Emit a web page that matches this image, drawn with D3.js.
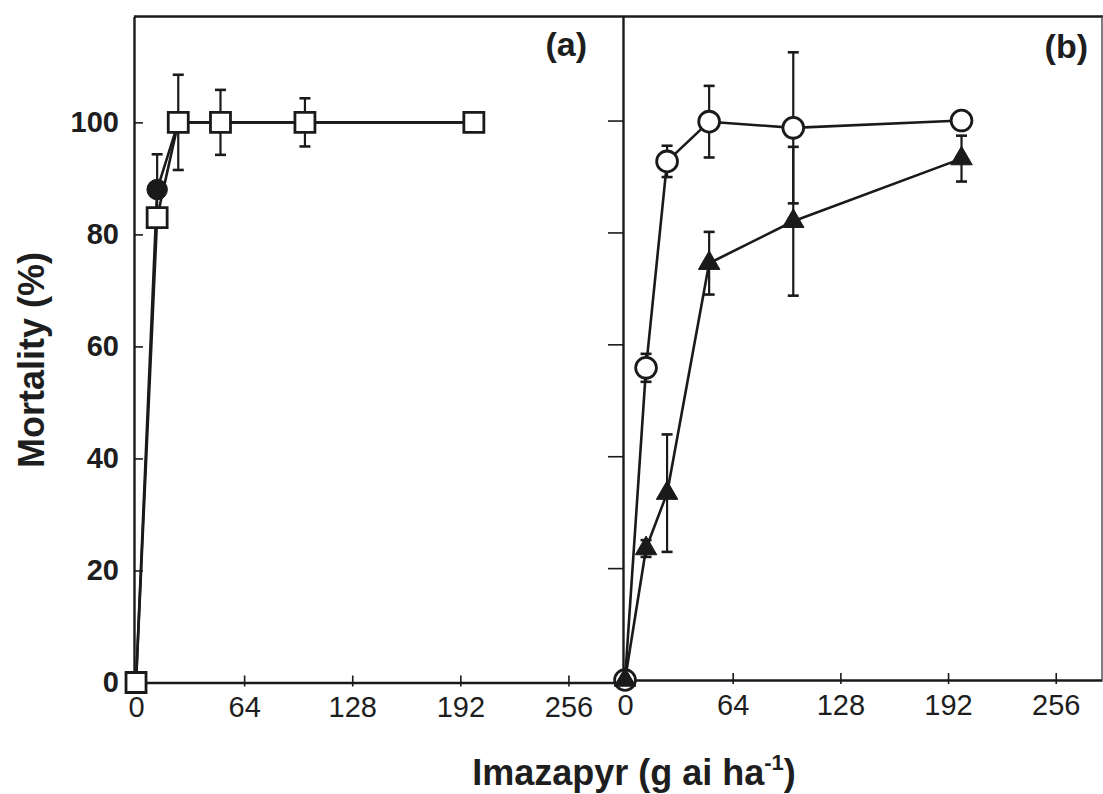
<!DOCTYPE html>
<html>
<head>
<meta charset="utf-8">
<script src="https://cdn.jsdelivr.net/npm/d3@7"></script>
<style>
  html, body { margin: 0; padding: 0; background: #ffffff; }
  svg { display: block; }
  text { font-family: "Liberation Sans", Arial, Helvetica, sans-serif; fill: #1e1e1e; }
</style>
</head>
<body>
<svg id="chart" width="1103" height="794"></svg>
<script>
// ---- data ----
const doses = [0, 12.5, 25, 50, 100, 200];

// panel (a)
const aSquareMort = [0, 83, 100, 100, 100, 100];
const aSquareErr  = [0, 0, 8.5, 5.8, 4.3, 0];
const aCircleMort = [0, 88, 100, 100, 100, 100];
const aCircleErr  = [0, 6.3, 0, 0, 0, 0];

// panel (b)
const bCircleMort = [0, 55.8, 92.7, 99.8, 98.7, 100];
const bCircleErr  = [0, 2.5, 2.8, 6.4, 13.5, 0];
const bTriMort    = [0, 23.5, 33.4, 74.5, 82, 93.2];
const bTriErr     = [0, 1.5, 10.5, 5.6, 13.3, 4.1];

const xTicks = [0, 64, 128, 192, 256];
const yTicks = [0, 20, 40, 60, 80, 100];
const panelLabels = ["(a)", "(b)"];
const xTitle = "Imazapyr (g ai ha";
const xTitleSup = "-1";
const yTitle = "Mortality (%)";

// ---- layout ----
const ink = "#1a1a1a";
const svg = d3.select("#chart");

const xA = d3.scaleLinear([-1.2, 288.3], [134, 623]);
const yA = d3.scaleLinear([0, 118.9], [682.5, 16.5]);
const xB = d3.scaleLinear([-1.2, 283.5], [623, 1102]);
const yB = d3.scaleLinear([0, 118.6], [680, 16.5]);

const rows = (ys, es) => doses.map((d, i) => ({dose: d, m: ys[i], e: es[i]}));

// ---- frames / axes ----
function xAxis(x, y0) {
  const g = svg.append("g").attr("transform", `translate(0,${y0})`)
    .call(d3.axisBottom(x).tickValues(xTicks).tickSizeOuter(0).tickSize(0).tickPadding(14).tickFormat(d3.format("d")));
  g.select(".domain").attr("stroke", ink).attr("stroke-width", 2.4);
  g.selectAll(".tick line").attr("y1", -7).attr("y2", 4).attr("stroke", ink).attr("stroke-width", 1.6);
  g.selectAll(".tick text").attr("font-size", 29).attr("fill", "#1e1e1e").attr("dy", "0.71em");
  return g;
}
xAxis(xA, 682.5);
xAxis(xB, 680);

// panel (a) left axis: inward ticks, bold labels
const gyA = svg.append("g").attr("transform", `translate(${xA.range()[0]},0)`)
  .call(d3.axisLeft(yA).tickValues(yTicks).tickSize(-9).tickSizeOuter(0).tickPadding(15));
gyA.select(".domain").attr("stroke", ink).attr("stroke-width", 2.4);
gyA.selectAll(".tick line").attr("stroke", ink).attr("stroke-width", 1.6);
gyA.selectAll(".tick text").attr("font-size", 29).attr("font-weight", "bold").attr("fill", "#1e1e1e");

// panel (b) left axis: divider line with outward ticks, no labels
const gyB = svg.append("g").attr("transform", `translate(${xB.range()[0]},0)`)
  .call(d3.axisLeft(yB).tickValues(yTicks.filter(v => v > 0)).tickSize(15).tickSizeOuter(0).tickFormat(""));
gyB.select(".domain").attr("stroke", ink).attr("stroke-width", 2.4);
gyB.selectAll(".tick line").attr("stroke", ink).attr("stroke-width", 1.6);

// top border across both panels, right border of panel (b)
svg.append("line").attr("x1", xA.range()[0]).attr("x2", 1103)
  .attr("y1", yA.range()[1]).attr("y2", yA.range()[1]).attr("stroke", ink).attr("stroke-width", 2.4);
svg.append("line").attr("x1", xB.range()[1]).attr("x2", xB.range()[1])
  .attr("y1", yB.range()[1]).attr("y2", yB.range()[0]).attr("stroke", "#555").attr("stroke-width", 1.5);

// ---- series drawing ----
function drawLine(x, y, data) {
  svg.append("path").datum(data)
    .attr("d", d3.line().x(d => x(d.dose)).y(d => y(d.m)))
    .attr("fill", "none").attr("stroke", ink).attr("stroke-width", 2.6).attr("stroke-linejoin", "round");
}
function drawErr(x, y, data) {
  const g = svg.append("g").attr("stroke", ink).attr("stroke-width", 2.2);
  const d = data.filter(r => r.e > 0);
  g.selectAll("line.v").data(d).join("line")
    .attr("x1", r => x(r.dose)).attr("x2", r => x(r.dose))
    .attr("y1", r => y(r.m + r.e)).attr("y2", r => y(r.m - r.e));
  [1, -1].forEach(s => {
    g.selectAll(null).data(d).join("line")
      .attr("stroke-width", 2.6)
      .attr("x1", r => x(r.dose) - 5.5).attr("x2", r => x(r.dose) + 5.5)
      .attr("y1", r => y(r.m + s * r.e)).attr("y2", r => y(r.m + s * r.e));
  });
}
function drawMarks(x, y, data, type, size, filled) {
  svg.append("g").selectAll("path").data(data).join("path")
    .attr("transform", r => `translate(${x(r.dose)},${y(r.m)})`)
    .attr("d", d3.symbol().type(type).size(size))
    .attr("fill", filled ? ink : "#ffffff")
    .attr("stroke", ink).attr("stroke-width", filled ? 1 : 2.8);
}

// panel (a)
const aCircle = rows(aCircleMort, aCircleErr);
const aSquare = rows(aSquareMort, aSquareErr);
drawLine(xA, yA, aCircle);
drawLine(xA, yA, aSquare);
drawErr(xA, yA, aCircle);
drawErr(xA, yA, aSquare);
drawMarks(xA, yA, aCircle, d3.symbolCircle, 330, true);
drawMarks(xA, yA, aSquare, d3.symbolSquare, 400, false);

// panel (b)
const bCircle = rows(bCircleMort, bCircleErr);
const bTri = rows(bTriMort, bTriErr);
drawLine(xB, yB, bCircle);
drawLine(xB, yB, bTri);
drawErr(xB, yB, bCircle);
drawErr(xB, yB, bTri);
drawMarks(xB, yB, bCircle, d3.symbolCircle, 340, false);
drawMarks(xB, yB, bTri, d3.symbolTriangle, 200, true);

// ---- labels ----
svg.append("text").attr("x", 587).attr("y", 56).attr("text-anchor", "end")
  .attr("font-size", 34).attr("font-weight", "bold").text(panelLabels[0]);
svg.append("text").attr("x", 1088).attr("y", 58).attr("text-anchor", "end")
  .attr("font-size", 34).attr("font-weight", "bold").text(panelLabels[1]);

const xt = svg.append("text").attr("x", 634).attr("y", 785).attr("text-anchor", "middle")
  .attr("font-size", 36).attr("font-weight", "bold");
xt.append("tspan").text(xTitle);
xt.append("tspan").attr("font-size", 22).attr("dy", -15).text(xTitleSup);
xt.append("tspan").attr("dy", 15).text(")");

svg.append("text").attr("transform", "translate(44,360) rotate(-90)").attr("text-anchor", "middle")
  .attr("font-size", 36).attr("font-weight", "bold").text(yTitle);
</script>
</body>
</html>
